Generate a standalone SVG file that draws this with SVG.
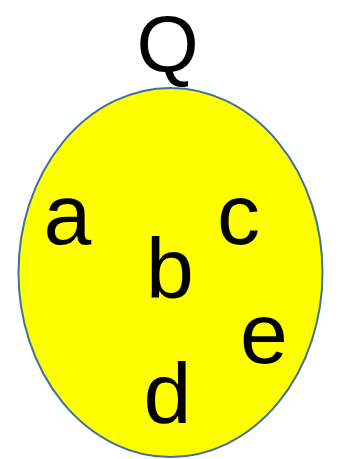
<svg xmlns="http://www.w3.org/2000/svg" width="341" height="459" viewBox="0 0 341 459">
<style>
text{font-family:"Liberation Sans",Arial,sans-serif;fill:#000;text-anchor:middle}
.el{font-size:86px}
</style>
<rect width="341" height="459" fill="#fff"/>
<g id="setQ">
<ellipse cx="170.5" cy="272.5" rx="152" ry="184.5" fill="#ffff00" stroke="#41719c" stroke-width="2"/>
<text x="167.5" y="72" font-size="80">Q</text>
</g>
<g id="a"><text class="el" x="67.5" y="244">a</text></g>
<g id="b"><text class="el" x="170" y="298">b</text></g>
<g id="c"><text class="el" x="238.5" y="244">c</text></g>
<g id="d"><text class="el" x="167.5" y="423">d</text></g>
<g id="e"><text class="el" x="264" y="363">e</text></g>
<g id="connectors"/>
</svg>
